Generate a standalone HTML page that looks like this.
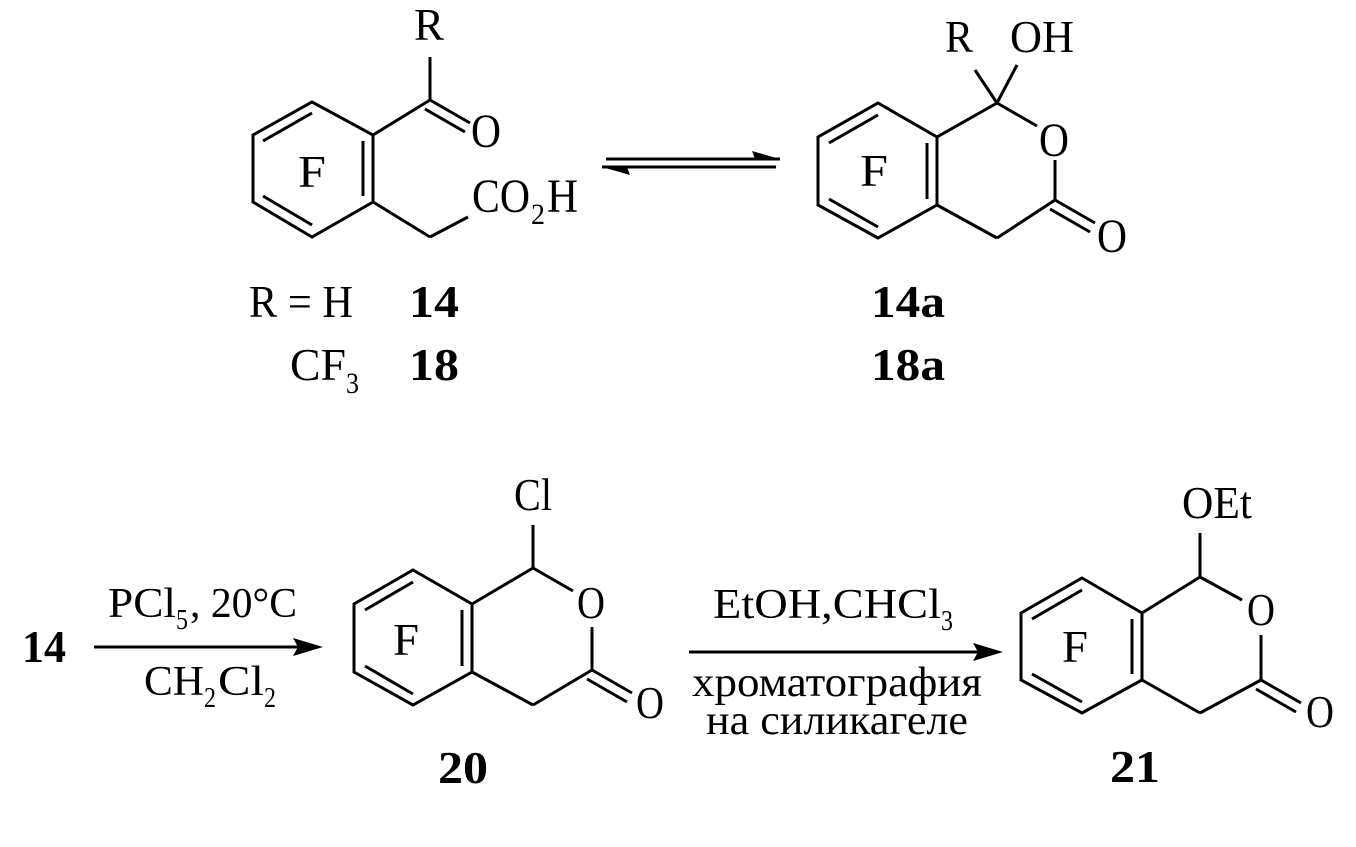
<!DOCTYPE html>
<html><head><meta charset="utf-8"><style>
html,body{margin:0;padding:0;background:#fff;}
svg{display:block;}
text{font-family:"Liberation Serif","DejaVu Serif",serif;fill:#000;}
.b{font-weight:bold;}
</style></head><body>
<svg width="1356" height="847" viewBox="0 0 1356 847" xmlns="http://www.w3.org/2000/svg">
<g stroke="#000" stroke-width="3" fill="none" stroke-linecap="butt">
<polygon points="312,102 373,135 373,202 312,237 253,202 253,135"/>
<line x1="312" y1="113" x2="263" y2="141"/>
<line x1="363" y1="141" x2="363" y2="196"/>
<line x1="263" y1="196" x2="312" y2="225"/>
<line x1="373" y1="135" x2="430" y2="100"/>
<line x1="430" y1="100" x2="430" y2="57"/>
<line x1="430" y1="100" x2="470" y2="123"/>
<line x1="425" y1="109" x2="465" y2="132"/>
<line x1="373" y1="202" x2="430" y2="237"/>
<line x1="430" y1="237" x2="468" y2="217"/>
<line x1="606" y1="159" x2="780" y2="159"/>
<line x1="602" y1="167" x2="776" y2="167"/>
</g>
<polygon points="752,151 780,159 755,159" fill="#000"/>
<polygon points="602,167 630,175 627,167" fill="#000"/>
<g stroke="#000" stroke-width="3" fill="none">
<polygon points="878,103 937,137 937,205 878,238 818,205 818,137"/>
<line x1="878" y1="115" x2="829" y2="143"/>
<line x1="927" y1="143" x2="927" y2="199"/>
<line x1="829" y1="199" x2="878" y2="227"/>
<line x1="937" y1="137" x2="997" y2="103"/>
<line x1="997" y1="103" x2="975" y2="70"/>
<line x1="997" y1="103" x2="1017" y2="65"/>
<line x1="997" y1="103" x2="1037" y2="126"/>
<line x1="1055" y1="160" x2="1055" y2="200"/>
<line x1="1055" y1="200" x2="997" y2="238"/>
<line x1="997" y1="238" x2="937" y2="205"/>
<line x1="1055" y1="200" x2="1095" y2="223"/>
<line x1="1050" y1="209" x2="1090" y2="232"/>
<polygon points="413,570 472,604 472,672 413,705 354,672 354,604"/>
<line x1="413" y1="582" x2="365" y2="610"/>
<line x1="462" y1="610" x2="462" y2="666"/>
<line x1="365" y1="666" x2="413" y2="694"/>
<line x1="472" y1="604" x2="533" y2="568"/>
<line x1="533" y1="568" x2="533" y2="525"/>
<line x1="533" y1="568" x2="573" y2="591"/>
<line x1="592" y1="627" x2="592" y2="670"/>
<line x1="592" y1="670" x2="533" y2="705"/>
<line x1="533" y1="705" x2="472" y2="672"/>
<line x1="592" y1="670" x2="632" y2="693"/>
<line x1="587" y1="679" x2="627" y2="702"/>
<line x1="94" y1="647" x2="300" y2="647"/>
<polygon points="1082,578 1142,613 1142,680 1082,713 1021,680 1021,613"/>
<line x1="1082" y1="590" x2="1032" y2="619"/>
<line x1="1132" y1="619" x2="1132" y2="674"/>
<line x1="1032" y1="674" x2="1082" y2="702"/>
<line x1="1142" y1="613" x2="1200" y2="577"/>
<line x1="1200" y1="577" x2="1200" y2="533"/>
<line x1="1200" y1="577" x2="1242" y2="600"/>
<line x1="1261" y1="635" x2="1261" y2="680"/>
<line x1="1261" y1="680" x2="1200" y2="713"/>
<line x1="1200" y1="713" x2="1142" y2="680"/>
<line x1="1261" y1="680" x2="1301" y2="703"/>
<line x1="1256" y1="689" x2="1296" y2="712"/>
<line x1="689" y1="652" x2="980" y2="652"/>
</g>
<polygon points="323,647 293,638 298,647 293,656" fill="#000"/>
<polygon points="1003,652 973,643 978,652 973,661" fill="#000"/>

<text x="414" y="40" font-size="46" textLength="30" lengthAdjust="spacingAndGlyphs">R</text>
<text x="471" y="147" font-size="48" textLength="30" lengthAdjust="spacingAndGlyphs">O</text>
<text x="298" y="187" font-size="46" textLength="28" lengthAdjust="spacingAndGlyphs">F</text>
<text x="472" y="212" font-size="48" textLength="58" lengthAdjust="spacingAndGlyphs">CO</text>
<text x="531" y="224" font-size="30" textLength="14" lengthAdjust="spacingAndGlyphs">2</text>
<text x="547" y="212" font-size="48" textLength="31" lengthAdjust="spacingAndGlyphs">H</text>

<text x="945" y="52" font-size="46" textLength="28" lengthAdjust="spacingAndGlyphs">R</text>
<text x="1010" y="52" font-size="46" textLength="64" lengthAdjust="spacingAndGlyphs">OH</text>
<text x="1039" y="156" font-size="48" textLength="30" lengthAdjust="spacingAndGlyphs">O</text>
<text x="860" y="186" font-size="46" textLength="28" lengthAdjust="spacingAndGlyphs">F</text>
<text x="1097" y="252" font-size="48" textLength="30" lengthAdjust="spacingAndGlyphs">O</text>

<text x="249" y="317" font-size="46" textLength="104" lengthAdjust="spacingAndGlyphs">R = H</text>
<text class="b" x="409" y="317" font-size="46" textLength="50" lengthAdjust="spacingAndGlyphs">14</text>
<text x="290" y="380" font-size="46" textLength="56" lengthAdjust="spacingAndGlyphs">CF</text>
<text x="346" y="393" font-size="30" textLength="13" lengthAdjust="spacingAndGlyphs">3</text>
<text class="b" x="409" y="380" font-size="46" textLength="50" lengthAdjust="spacingAndGlyphs">18</text>
<text class="b" x="871" y="317" font-size="46" textLength="74" lengthAdjust="spacingAndGlyphs">14a</text>
<text class="b" x="871" y="380" font-size="46" textLength="74" lengthAdjust="spacingAndGlyphs">18a</text>

<text class="b" x="22" y="662" font-size="46" textLength="44" lengthAdjust="spacingAndGlyphs">14</text>
<text x="108" y="617" font-size="42" textLength="68" lengthAdjust="spacingAndGlyphs">PCl</text>
<text x="176" y="629" font-size="28" textLength="12" lengthAdjust="spacingAndGlyphs">5</text>
<text x="190" y="617" font-size="42" textLength="107" lengthAdjust="spacingAndGlyphs">, 20°C</text>
<text x="144" y="695" font-size="42" textLength="60" lengthAdjust="spacingAndGlyphs">CH</text>
<text x="204" y="707" font-size="28" textLength="12" lengthAdjust="spacingAndGlyphs">2</text>
<text x="218" y="695" font-size="42" textLength="46" lengthAdjust="spacingAndGlyphs">Cl</text>
<text x="264" y="707" font-size="28" textLength="12" lengthAdjust="spacingAndGlyphs">2</text>

<text x="514" y="510" font-size="46" textLength="38" lengthAdjust="spacingAndGlyphs">Cl</text>
<text x="577" y="618" font-size="46" textLength="28" lengthAdjust="spacingAndGlyphs">O</text>
<text x="393" y="655" font-size="46" textLength="26" lengthAdjust="spacingAndGlyphs">F</text>
<text x="636" y="718" font-size="46" textLength="28" lengthAdjust="spacingAndGlyphs">O</text>
<text class="b" x="438" y="783" font-size="46" textLength="50" lengthAdjust="spacingAndGlyphs">20</text>

<text x="713" y="618" font-size="42" textLength="228" lengthAdjust="spacingAndGlyphs">EtOH,CHCl</text>
<text x="941" y="630" font-size="28" textLength="12" lengthAdjust="spacingAndGlyphs">3</text>
<text x="692" y="696" font-size="42" textLength="290" lengthAdjust="spacingAndGlyphs">хроматография</text>
<text x="706" y="734" font-size="42" textLength="262" lengthAdjust="spacingAndGlyphs">на силикагеле</text>

<text x="1182" y="518" font-size="46" textLength="70" lengthAdjust="spacingAndGlyphs">OEt</text>
<text x="1247" y="625" font-size="46" textLength="28" lengthAdjust="spacingAndGlyphs">O</text>
<text x="1062" y="662" font-size="46" textLength="26" lengthAdjust="spacingAndGlyphs">F</text>
<text x="1306" y="727" font-size="46" textLength="28" lengthAdjust="spacingAndGlyphs">O</text>
<text class="b" x="1110" y="782" font-size="46" textLength="50" lengthAdjust="spacingAndGlyphs">21</text>
</svg>
</body></html>
